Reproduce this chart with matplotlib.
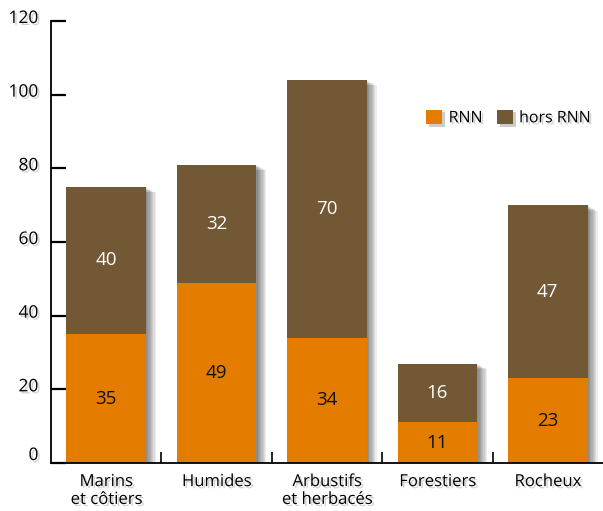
import numpy as np
import matplotlib.pyplot as plt
import matplotlib.patheffects as pe
import matplotlib.transforms as mtransforms

plt.rcParams['font.family'] = ['Open Sans', 'DejaVu Sans']

# Nombre de sites par type de milieu
categories = ["Marins\net côtiers", "Humides", "Arbustifs\net herbacés", "Forestiers", "Rocheux"]
rnn = [35, 49, 34, 11, 23]
hors_rnn = [40, 32, 70, 16, 47]
yticks = [0, 20, 40, 60, 80, 100, 120]

orange = "#E47C00"
brun = "#725834"

fig = plt.figure(figsize=(6.03, 5.11), dpi=100)
ax = fig.add_axes([51/603, 48/511, 552/603, 442/511])

x = np.arange(len(categories))
width = 0.72
total = np.array(rnn) + np.array(hors_rnn)

# soft drop shadow under each full bar (drawn alone, below the bars)
shadow = [pe.SimplePatchShadow(offset=(d * 0.9, -d * 0.5), shadow_rgbFace="black", alpha=0.07)
          for d in range(1, 9)]
ax.bar(x, total, width, color="white", path_effects=shadow, zorder=1)

ax.bar(x, rnn, width, color=orange, zorder=2, label="RNN")
ax.bar(x, hors_rnn, width, bottom=rnn, color=brun, zorder=2, label="hors RNN")

for i in range(len(categories)):
    ax.text(x[i], rnn[i] / 2, str(rnn[i]), ha="center", va="center",
            fontsize=13.5, color="#111111", zorder=3)
    ax.text(x[i], rnn[i] + hors_rnn[i] / 2, str(hors_rnn[i]), ha="center", va="center",
            fontsize=13.5, color="white", zorder=3)

ax.set_xlim(-0.5, 4.5)
ax.set_ylim(0, 120)

ax.spines["top"].set_visible(False)
ax.spines["right"].set_visible(False)
ax.spines["left"].set_linewidth(1.3)
ax.spines["bottom"].set_linewidth(1.3)

txt_shadow = [pe.SimplePatchShadow(offset=(1.5, -1.5), shadow_rgbFace="gray", alpha=0.35), pe.Normal()]

ax.set_yticks(yticks)
ax.tick_params(axis="y", direction="in", length=11, width=1.6, pad=9, labelsize=12.5)
for lab in ax.get_yticklabels():
    # the 0 label sits a little higher above its tick
    dy = 9 if lab.get_text() == "0" else 4
    offset = mtransforms.ScaledTranslation(0, dy/100, fig.dpi_scale_trans)
    lab.set_transform(lab.get_transform() + offset)
    lab.set_path_effects(txt_shadow)

ax.set_xticks(x)
ax.set_xticklabels(categories, linespacing=1.15)
ax.tick_params(axis="x", length=0, pad=8, labelsize=12)
for lab in ax.get_xticklabels():
    lab.set_verticalalignment("top")
    lab.set_path_effects(txt_shadow)
ax.set_xticks(x[:-1] + 0.5, minor=True)
ax.tick_params(axis="x", which="minor", direction="in", length=8, width=1.2)

leg = ax.legend(loc="center right", bbox_to_anchor=(597/603, 1 - 118/511),
                bbox_transform=fig.transFigure, ncol=2, frameon=False, fontsize=11.5,
                handlelength=1.0, handleheight=1.0, handletextpad=0.4,
                columnspacing=0.9, borderaxespad=0)
for t in leg.get_texts():
    t.set_path_effects(txt_shadow)
for h in leg.legend_handles:
    h.set_path_effects([pe.SimplePatchShadow(offset=(2, -2), shadow_rgbFace="gray", alpha=0.4), pe.Normal()])

fig.savefig("out.png", dpi=100)
